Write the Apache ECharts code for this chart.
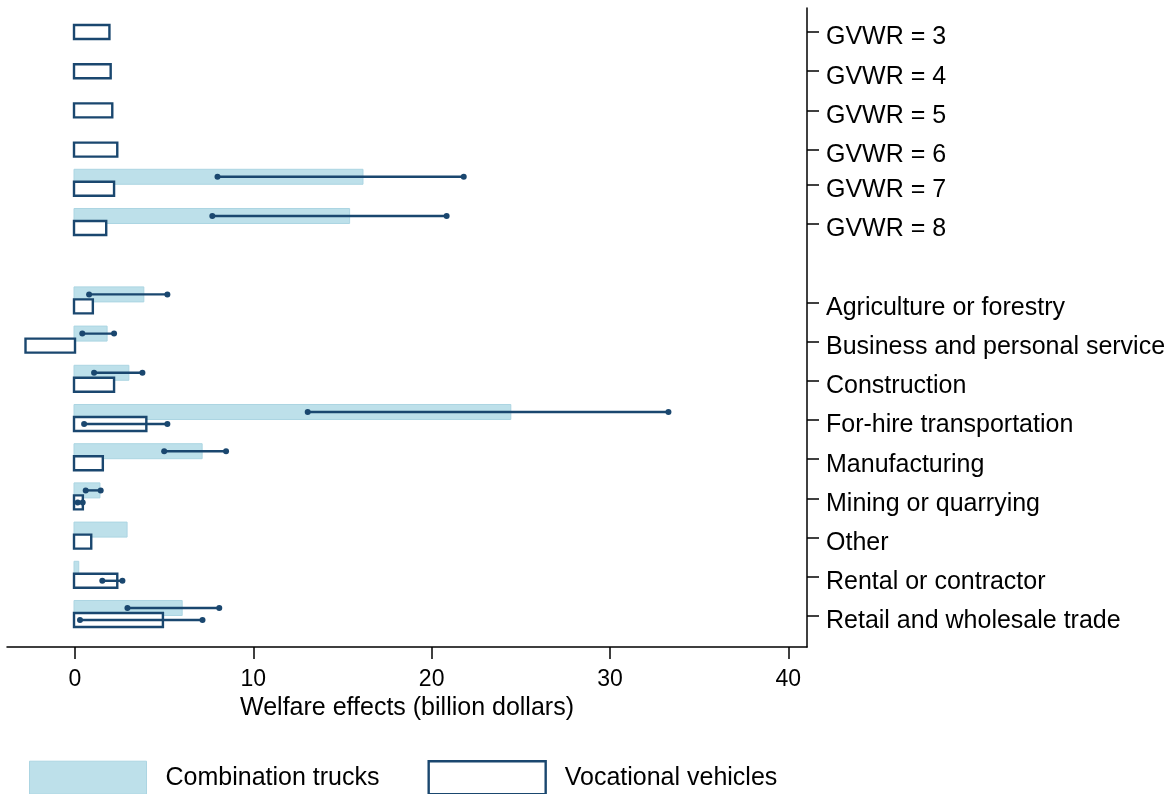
<!DOCTYPE html>
<html>
<head>
<meta charset="utf-8">
<title>Welfare effects</title>
<script src="https://cdn.jsdelivr.net/npm/echarts@6/dist/echarts.min.js"></script>
<style>
  html, body { margin: 0; padding: 0; background: #fff; }
  #chart { width: 1174px; height: 794px; }
</style>
</head>
<body>
<div id="chart"></div>
<script>
// rows, top to bottom ('' is the blank spacer row)
const categories = [
  'GVWR = 3', 'GVWR = 4', 'GVWR = 5', 'GVWR = 6', 'GVWR = 7', 'GVWR = 8', '',
  'Agriculture or forestry', 'Business and personal service', 'Construction',
  'For-hire transportation', 'Manufacturing', 'Mining or quarrying', 'Other',
  'Rental or contractor', 'Retail and wholesale trade'
];
const combination = [null, null, null, null, 16.15, 15.4, null, 3.86, 1.8, 3.02, 24.44, 7.13, 1.4, 2.92, 0.21, 6.01];
const vocational = [1.93, 2.0, 2.09, 2.37, 2.19, 1.75, null, 1.0, -2.72, 2.19, 4.0, 1.56, 0.44, 0.91, 2.37, 4.93];
// confidence intervals
const combinationLow = [null, null, null, null, 7.99, 7.7, null, 0.79, 0.41, 1.07, 13.05, 5.0, 0.6, null, null, 2.94];
const combinationHigh = [null, null, null, null, 21.8, 20.84, null, 5.18, 2.19, 3.78, 33.28, 8.47, 1.44, null, null, 8.09];
const vocationalLow = [null, null, null, null, null, null, null, null, null, null, 0.51, null, 0.15, null, 1.53, 0.28];
const vocationalHigh = [null, null, null, null, null, null, null, null, null, null, 5.18, null, 0.43, null, 2.66, 7.15];
const xTicks = [0, 10, 20, 30, 40];

const NAVY = '#1a476f';
const FONT = 'Liberation Sans, Arial, Helvetica, sans-serif';
const COMBO_OFF = -0.153;   // bar offset inside a row (axis units)
const VOC_OFF = 0.153;

// tick sits on the vocational bar when a row has only that bar
const tickPos = [];
categories.forEach((c, i) => {
  if (!c) return;
  tickPos.push(combination[i] == null ? i + VOC_OFF : i + 0.05);
});
const labelPos = tickPos.map(t => t + 0.14);

const toPairs = arr => arr.map((v, i) => (v == null ? null : [v, i])).filter(Boolean);
const toRanges = (lo, hi) => lo.map((v, i) => (v == null ? null : [v, hi[i], i])).filter(Boolean);

function barRender(offset, half, style) {
  return function (params, api) {
    const row = api.value(1);
    const p0 = api.coord([0, row]);
    const p1 = api.coord([api.value(0), row]);
    const unit = api.size([0, 1])[1];
    const cy = p0[1] + offset * unit;
    return {
      type: 'rect',
      shape: { x: Math.min(p0[0], p1[0]) - 1, y: cy - half, width: Math.abs(p1[0] - p0[0]) + 1, height: half * 2 },
      style: style
    };
  };
}

function ciRender(offset) {
  return function (params, api) {
    const row = api.value(2);
    const a = api.coord([api.value(0), row]);
    const b = api.coord([api.value(1), row]);
    const cy = a[1] + offset * api.size([0, 1])[1];
    const st = { fill: NAVY };
    return {
      type: 'group',
      children: [
        { type: 'line', shape: { x1: a[0], y1: cy, x2: b[0], y2: cy }, style: { stroke: NAVY, lineWidth: 2.4 } },
        { type: 'circle', shape: { cx: a[0], cy: cy, r: 3 }, style: st },
        { type: 'circle', shape: { cx: b[0], cy: cy, r: 3 }, style: st }
      ]
    };
  };
}

const chart = echarts.init(document.getElementById('chart'));

chart.setOption({
  animation: false,
  backgroundColor: '#fff',
  textStyle: { fontFamily: FONT },
  grid: { left: 7, right: 367, top: 8, bottom: 147, containLabel: false, outerBoundsMode: 'none' },
  legend: {
    left: 29,
    top: 760,
    padding: 0,
    itemWidth: 117,
    itemHeight: 33,
    itemGap: 48,
    selectedMode: false,
    textStyle: { fontSize: 25, color: '#000', fontFamily: FONT, padding: [4, 0, 0, 14] },
    data: [
      { name: 'Combination trucks', icon: 'rect', itemStyle: { color: '#bde0ea', borderColor: '#acd5e2', borderWidth: 1 } },
      { name: 'Vocational vehicles', icon: 'rect', itemStyle: { color: '#fff', borderColor: NAVY, borderWidth: 2.4 } }
    ]
  },
  xAxis: {
    type: 'value',
    min: -3.814,
    max: 41.05,
    name: 'Welfare effects (billion dollars)',
    nameLocation: 'middle',
    nameGap: 49,
    nameTextStyle: { fontSize: 25, color: '#000', fontFamily: FONT },
    splitLine: { show: false },
    axisLine: { onZero: false, lineStyle: { color: '#000', width: 1.5 } },
    axisTick: { customValues: xTicks, length: 12, lineStyle: { color: '#000', width: 1.5 } },
    axisLabel: { customValues: xTicks, fontSize: 23, color: '#000', margin: 21, fontFamily: FONT }
  },
  yAxis: {
    type: 'value',
    inverse: true,
    min: -0.459,
    max: 15.842,
    position: 'right',
    splitLine: { show: false },
    axisLine: { show: true, onZero: false, lineStyle: { color: '#000', width: 1.5 } },
    axisTick: { show: true, customValues: tickPos, length: 12, lineStyle: { color: '#000', width: 1.5 } },
    axisLabel: {
      customValues: labelPos,
      fontSize: 25,
      color: '#000',
      margin: 19,
      fontFamily: FONT,
      formatter: v => categories[Math.round(v - 0.15)] || ''
    }
  },
  series: [
    {
      name: 'Combination trucks',
      type: 'custom',
      z: 1,
      encode: { x: 0, y: 1 },
      data: toPairs(combination),
      itemStyle: { color: '#bde0ea' },
      renderItem: barRender(COMBO_OFF, 7.5, { fill: '#bde0ea', stroke: '#acd5e2', lineWidth: 1 })
    },
    {
      name: 'Vocational vehicles',
      type: 'custom',
      z: 2,
      encode: { x: 0, y: 1 },
      data: toPairs(vocational),
      itemStyle: { color: '#fff', borderColor: NAVY },
      renderItem: barRender(VOC_OFF, 7, { fill: '#fff', stroke: NAVY, lineWidth: 2.4 })
    },
    {
      name: 'ci-combination',
      type: 'custom',
      z: 3,
      encode: { x: [0, 1], y: 2 },
      data: toRanges(combinationLow, combinationHigh),
      renderItem: ciRender(COMBO_OFF)
    },
    {
      name: 'ci-vocational',
      type: 'custom',
      z: 3,
      encode: { x: [0, 1], y: 2 },
      data: toRanges(vocationalLow, vocationalHigh),
      renderItem: ciRender(VOC_OFF)
    }
  ]
});

window.addEventListener('resize', () => chart.resize());
</script>
</body>
</html>
